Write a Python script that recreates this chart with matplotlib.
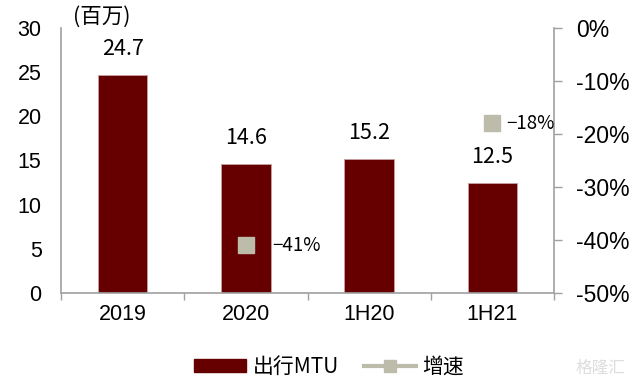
import matplotlib
matplotlib.use("Agg")
import matplotlib.pyplot as plt
import numpy as np
from matplotlib.lines import Line2D
from matplotlib.patches import Patch

plt.rcParams['font.family'] = ['Liberation Sans', 'Noto Sans CJK SC', 'DejaVu Sans']

categories = ["2019", "2020", "1H20", "1H21"]
mtu = [24.7, 14.6, 15.2, 12.5]
growth = [np.nan, -41, np.nan, -18]
growth_labels = ["", "−41%", "", "−18%"]
left_ticks = [0, 5, 10, 15, 20, 25, 30]
right_ticks = [0, -10, -20, -30, -40, -50]

bar_color = "#660000"
line_color = "#BDBCAA"
spine_color = "#A0A0A0"
cjk = ['Noto Sans CJK SC', 'DejaVu Sans']
label_offsets = [0, 0.21, 0, 0.11]

fig = plt.figure(figsize=(6.43, 3.88), dpi=100)
ax = fig.add_axes([61/643, 1 - 293/388, (554-61)/643, (293-28)/388])
x = np.arange(len(categories))
ax.bar(x, mtu, width=0.4, color=bar_color, edgecolor="#C9A0A0", linewidth=0.6, zorder=2)
ax.set_xlim(-0.5, len(categories) - 0.5)
ax.set_ylim(0, 30)
ax.set_yticks(left_ticks)
ax.set_yticklabels([str(t) for t in left_ticks], fontsize=15.5)
ax.tick_params(axis='y', length=0, pad=14)
ax.set_xticks(x)
ax.set_xticklabels(categories, fontsize=15.5)
ax.tick_params(axis='x', length=0, pad=8)
ax.set_xticks(np.arange(-0.5, len(categories), 1), minor=True)
ax.tick_params(axis='x', which='minor', length=5, color=spine_color, width=1)
ax.spines["top"].set_visible(False)
ax.spines["right"].set_visible(False)
ax.spines["left"].set_color(spine_color)
ax.spines["bottom"].set_color(spine_color)
ax.spines["left"].set_linewidth(1.2)
ax.spines["bottom"].set_linewidth(1.2)

for xi, v in zip(x, mtu):
    ax.text(xi, v + 1.7, f"{v:.1f}", ha="center", va="bottom", fontsize=15.5, family=cjk)

ax.text(0.025, 1.0, "(百万)", transform=ax.transAxes, fontsize=15.5, ha="left", va="bottom",
        family=cjk)

ax2 = ax.twinx()
ax2.set_ylim(-50, 0)
ax2.plot(x, growth, color=line_color, marker="s", markersize=11, linewidth=3, zorder=3)
for xi, g, lab, off in zip(x, growth, growth_labels, label_offsets):
    if lab:
        ax2.text(xi + off, g, lab, ha="left", va="center", fontsize=13.5, family=cjk)
ax2.set_yticks(right_ticks)
ax2.set_yticklabels([f"{t}%" for t in right_ticks], fontsize=16.5)
ax2.tick_params(axis='y', length=6, color=spine_color, width=1, pad=10)
for s in ["top", "left", "bottom"]:
    ax2.spines[s].set_visible(False)
ax2.spines["right"].set_color(spine_color)
ax2.spines["right"].set_linewidth(1.2)

handles = [Patch(facecolor=bar_color, edgecolor=bar_color),
           Line2D([0], [0], color=line_color, marker="s", markersize=8, linewidth=3)]
leg = fig.legend(handles, ["出行MTU", "增速"], loc="center", bbox_to_anchor=(329/643, 1 - 367/388),
                 ncol=2, frameon=False, handlelength=2.5, handleheight=0.55,
                 columnspacing=1.2, handletextpad=0.3,
                 prop={'family': cjk, 'size': 15})

fig.text(600/643, 1 - 368/388, "格隆汇", fontsize=12, color="#DDDDDD", ha="center", va="center",
         family=cjk)

fig.savefig("out.png", dpi=100)
